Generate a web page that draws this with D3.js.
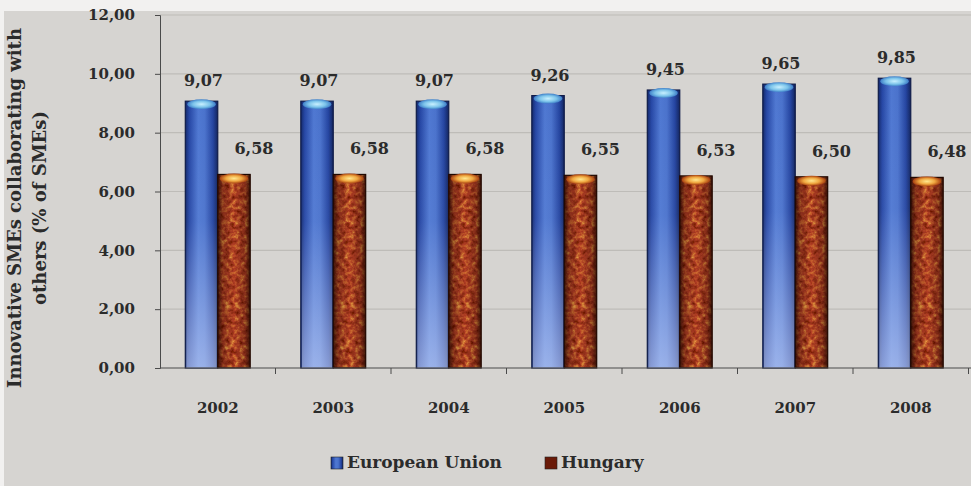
<!DOCTYPE html>
<html>
<head>
<meta charset="utf-8">
<script src="https://cdn.jsdelivr.net/npm/d3@7"></script>
<style>
  html, body { margin: 0; padding: 0; background: #f2f1f0; }
  svg { display: block; }
  text { font-family: "DejaVu Serif", "Liberation Serif", serif; fill: #2b2b2b; }
</style>
</head>
<body>
<svg id="chart" width="971" height="486"></svg>
<script>
// Share of innovative SMEs collaborating with others (% of SMEs)
const years = ["2002", "2003", "2004", "2005", "2006", "2007", "2008"];
const seriesNames = ["European Union", "Hungary"];
const euValues = [9.07, 9.07, 9.07, 9.26, 9.45, 9.65, 9.85];
const huValues = [6.58, 6.58, 6.58, 6.55, 6.53, 6.50, 6.48];
const yTickValues = [0, 2, 4, 6, 8, 10, 12];
const yTitleLines = ["Innovative SMEs collaborating with", "others (% of SMEs)"];

const fmt = v => d3.format(".2f")(v).replace(".", ",");

const svg = d3.select("#chart");
const W = 971, H = 486;
const plot = { left: 160, right: 968.5, top: 15, bottom: 368 };

// background panel
svg.append("rect").attr("x", 4).attr("y", 11).attr("width", W - 4).attr("height", H - 11)
  .attr("fill", "#d6d4d1");

const defs = svg.append("defs");

// Blue cylinder shading
const gBlue = defs.append("linearGradient").attr("id", "euSide").attr("x1", 0).attr("x2", 1).attr("y1", 0).attr("y2", 0);
[["0%", "#13286a"], ["12%", "#2546a4"], ["40%", "#4f78d2"], ["60%", "#4a72cc"], ["85%", "#2444a0"], ["100%", "#12245e"]]
  .forEach(([o, c]) => gBlue.append("stop").attr("offset", o).attr("stop-color", c));
const gBlueV = defs.append("linearGradient").attr("id", "euFade").attr("x1", 0).attr("x2", 0).attr("y1", 0).attr("y2", 1);
[["0%", 0], ["45%", 0.05], ["100%", 0.55]]
  .forEach(([o, a]) => gBlueV.append("stop").attr("offset", o).attr("stop-color", "#d8e2ff").attr("stop-opacity", a));
const gCap = defs.append("radialGradient").attr("id", "euCap");
[["0%", "#c8f0ff"], ["60%", "#7cc4ea"], ["100%", "#3f7fc8"]]
  .forEach(([o, c]) => gCap.append("stop").attr("offset", o).attr("stop-color", c));

// Hungary textured fill
const tex = defs.append("filter").attr("id", "huTexture").attr("x", 0).attr("y", 0).attr("width", 1).attr("height", 1);
tex.append("feTurbulence").attr("type", "fractalNoise").attr("baseFrequency", 0.2)
  .attr("numOctaves", 3).attr("seed", 7).attr("result", "noise");
tex.append("feColorMatrix").attr("in", "noise").attr("type", "matrix")
  .attr("values", "1 0 0 0 0  1 0 0 0 0  1 0 0 0 0  0 0 0 0 1").attr("result", "gray");
const ct = tex.append("feComponentTransfer").attr("in", "gray").attr("result", "col");
ct.append("feFuncR").attr("type", "table").attr("tableValues", "0.1 0.18 0.3 0.45 0.62 0.85 0.95");
ct.append("feFuncG").attr("type", "table").attr("tableValues", "0 0.01 0.03 0.05 0.14 0.35 0.5");
ct.append("feFuncB").attr("type", "table").attr("tableValues", "0 0 0.01 0.02 0.03 0.06 0.1");
tex.append("feComposite").attr("in", "col").attr("in2", "SourceGraphic").attr("operator", "in");

const gHuSide = defs.append("linearGradient").attr("id", "huSide").attr("x1", 0).attr("x2", 1).attr("y1", 0).attr("y2", 0);
[["0%", 0.8], ["15%", 0.3], ["50%", 0], ["85%", 0.3], ["100%", 0.8]]
  .forEach(([o, a]) => gHuSide.append("stop").attr("offset", o).attr("stop-color", "#1a0500").attr("stop-opacity", a));
const gHuCap = defs.append("radialGradient").attr("id", "huCap");
[["0%", "#ffe890"], ["55%", "#f0a840"], ["100%", "#a84010"]]
  .forEach(([o, c]) => gHuCap.append("stop").attr("offset", o).attr("stop-color", c));

// scales
const x = d3.scaleBand().domain(years).range([plot.left, plot.right]).paddingInner(0).paddingOuter(0);
const x1 = d3.scaleBand().domain(seriesNames).range([0, x.bandwidth()]).paddingInner(0).paddingOuter(0.78);
const y = d3.scaleLinear().domain([0, 12]).range([plot.bottom, plot.top]);

// gridlines
svg.append("g").selectAll("line").data(yTickValues.filter(v => v > 0)).join("line")
  .attr("x1", plot.left).attr("x2", W)
  .attr("y1", d => y(d)).attr("y2", d => y(d))
  .attr("stroke", "#bebcb8").attr("stroke-width", 1.2);

// y axis
const yAxis = svg.append("g").attr("transform", `translate(${plot.left},0)`)
  .call(d3.axisLeft(y).tickValues(yTickValues).tickSize(5).tickPadding(20).tickFormat(fmt));
yAxis.select(".domain").attr("stroke", "#4a4a4a");
yAxis.selectAll(".tick line").attr("stroke", "#4a4a4a");
yAxis.selectAll("text").attr("font-size", 15).attr("font-weight", "bold").attr("fill", "#2b2b2b")
  .style("font-family", "'DejaVu Serif', serif");

// bars
const rows = years.map((yr, i) => ({ year: yr, values: [
  { name: seriesNames[0], v: euValues[i] },
  { name: seriesNames[1], v: huValues[i] }
]}));

const groups = svg.append("g").selectAll("g").data(rows).join("g")
  .attr("transform", d => `translate(${x(d.year)},0)`);

const bw = x1.bandwidth();

// European Union bars
const eu = groups.append("g").datum(d => d.values[0]);
eu.append("rect").attr("x", d => x1(d.name)).attr("y", d => y(d.v))
  .attr("width", bw).attr("height", d => y(0) - y(d.v))
  .attr("fill", "url(#euSide)").attr("stroke", "#101c48").attr("stroke-width", 1.2);
eu.append("rect").attr("x", d => x1(d.name) + 1).attr("y", d => y(d.v))
  .attr("width", bw - 2).attr("height", d => y(0) - y(d.v))
  .attr("fill", "url(#euFade)");
eu.append("ellipse").attr("cx", d => x1(d.name) + bw / 2).attr("cy", d => y(d.v) + 3)
  .attr("rx", bw / 2 - 2).attr("ry", 5).attr("fill", "url(#euCap)");

// Hungary bars
const hu = groups.append("g").datum(d => d.values[1]);
hu.append("rect").attr("x", d => x1(d.name)).attr("y", d => y(d.v))
  .attr("width", bw).attr("height", d => y(0) - y(d.v))
  .attr("fill", "#000").attr("filter", "url(#huTexture)");
hu.append("rect").attr("x", d => x1(d.name)).attr("y", d => y(d.v))
  .attr("width", bw).attr("height", d => y(0) - y(d.v))
  .attr("fill", "url(#huSide)").attr("stroke", "#200800").attr("stroke-width", 1.2);
hu.append("ellipse").attr("cx", d => x1(d.name) + bw / 2).attr("cy", d => y(d.v) + 4)
  .attr("rx", bw / 2 - 2).attr("ry", 5).attr("fill", "url(#huCap)");

// value labels
eu.append("text").attr("x", d => x1(d.name) + bw / 2 + 2).attr("y", d => y(d.v) - 15)
  .attr("text-anchor", "middle").attr("font-size", 16).attr("font-weight", "bold")
  .text(d => fmt(d.v));
hu.append("text").attr("x", d => x1(d.name) + bw / 2 + 20).attr("y", d => y(d.v) - 20)
  .attr("text-anchor", "middle").attr("font-size", 16).attr("font-weight", "bold")
  .text(d => fmt(d.v));

// x axis
svg.append("line").attr("x1", plot.left).attr("x2", W).attr("y1", y(0)).attr("y2", y(0))
  .attr("stroke", "#4a4a4a");
svg.append("g").selectAll("line").data(years).join("line")
  .attr("x1", d => x(d) + x.step()).attr("x2", d => x(d) + x.step())
  .attr("y1", y(0)).attr("y2", y(0) + 6).attr("stroke", "#4a4a4a");
svg.append("g").selectAll("text").data(years).join("text")
  .attr("x", d => x(d) + x.bandwidth() / 2).attr("y", 413)
  .attr("text-anchor", "middle").attr("font-size", 15).attr("font-weight", "bold")
  .attr("fill", "#333").text(d => d);

// y axis title
const yt = svg.append("text").attr("transform", "translate(21,208) rotate(-90)")
  .attr("text-anchor", "middle").attr("font-size", 18).attr("font-weight", "bold");
yt.selectAll("tspan").data(yTitleLines).join("tspan")
  .attr("x", 0).attr("dy", (d, i) => i === 0 ? 0 : 25).text(d => d);

// legend
const legendColors = ["url(#euSide)", "#6a1a08"];
const legend = svg.append("g").attr("transform", "translate(331,468)");
const legX = [0, 214];
seriesNames.forEach((name, i) => {
  const g = legend.append("g").attr("transform", `translate(${legX[i]},0)`);
  g.append("rect").attr("x", 0).attr("y", -11).attr("width", 12).attr("height", 12)
    .attr("fill", legendColors[i]).attr("stroke", "#222").attr("stroke-width", 0.6);
  g.append("text").attr("x", 16).attr("y", 0).attr("font-size", 17).attr("font-weight", "bold")
    .text(name);
});
</script>
</body>
</html>
